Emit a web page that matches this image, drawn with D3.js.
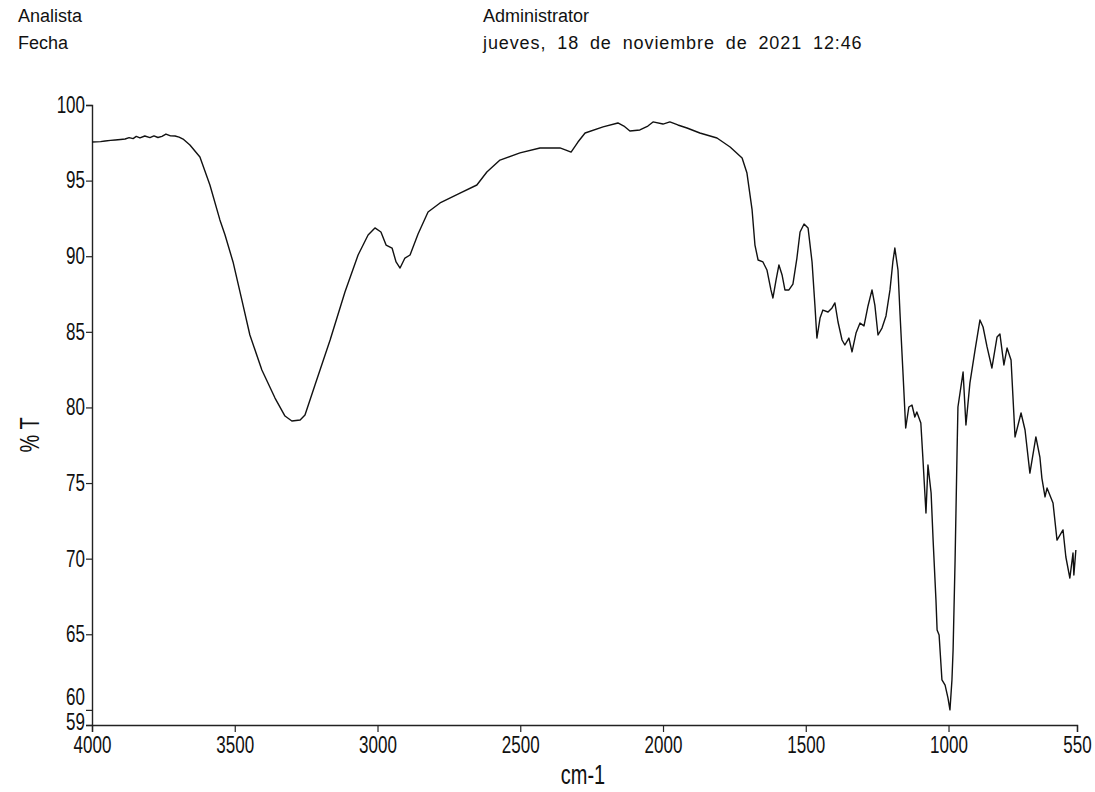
<!DOCTYPE html>
<html>
<head>
<meta charset="utf-8">
<script src="https://cdn.jsdelivr.net/npm/d3@7"></script>
<style>
  body { margin: 0; background: #fff; }
  .head { font-family: "Liberation Sans", Arial, sans-serif; font-size: 18px; fill: #111; }
</style>
</head>
<body>
<script>
// IR spectrum, %T vs wavenumber

const w = 1095;
const h = 792;
const sx = 0.74; // squeeze for the narrow axis font

// wavenumber (cm-1) and transmittance (%)
const wavenumber = [4000, 3970, 3954, 3935, 3919, 3900, 3884, 3870, 3856, 3845, 3832, 3815, 3797, 3783, 3769, 3755, 3741, 3725, 3709, 3695, 3681, 3657, 3622, 3587, 3552, 3534,
  3506, 3475, 3447, 3405, 3359, 3324, 3300, 3271, 3254, 3219, 3166, 3114, 3068, 3033, 3009, 2988, 2970, 2949,
  2935, 2921, 2904, 2886, 2858, 2823, 2781, 2711, 2652, 2617, 2571, 2501, 2431, 2361, 2340, 2322, 2298, 2273,
  2210, 2158, 2137, 2116, 2081, 2053, 2035, 2000, 1976, 1948, 1916, 1871, 1811, 1765, 1723, 1706, 1688, 1678,
  1667, 1650, 1636, 1622, 1615, 1604, 1594, 1583, 1573, 1559, 1545, 1531, 1520, 1506, 1492, 1478, 1468, 1461,
  1450, 1440, 1422, 1408, 1398, 1387, 1373, 1363, 1349, 1338, 1324, 1310, 1296, 1282, 1268, 1258, 1247, 1233,
  1219, 1205, 1195, 1188, 1177, 1170, 1160, 1150, 1139, 1128, 1118, 1111, 1097, 1090, 1079, 1072, 1061, 1054,
  1044, 1040, 1033, 1023, 1012, 1002, 995, 988, 984, 977, 970, 967, 949, 939, 925, 907, 890, 879, 865, 848,
  830, 820, 806, 795, 781, 767, 746, 732, 715, 694, 680, 673, 662, 655, 634, 620, 599, 589, 575, 564, 561, 554];

const transmittance = [97.55, 97.58, 97.62, 97.66, 97.69, 97.72, 97.75, 97.84, 97.78, 97.92, 97.82, 97.95, 97.84, 97.96, 97.85, 97.93, 98.08, 97.96, 97.95, 97.88, 97.75, 97.35, 96.56, 94.71, 92.40, 91.40,
  89.62, 87.10, 84.79, 82.48, 80.62, 79.43, 79.10, 79.17, 79.50, 81.48, 84.46, 87.63, 90.08, 91.40, 91.87, 91.60, 90.74, 90.54,
  89.62, 89.22, 89.88, 90.08, 91.47, 92.92, 93.52, 94.18, 94.71, 95.57, 96.36, 96.83, 97.16, 97.16, 97.02, 96.89, 97.55, 98.15,
  98.55, 98.81, 98.61, 98.28, 98.35, 98.61, 98.88, 98.74, 98.88, 98.68, 98.48, 98.15, 97.82, 97.22, 96.50, 95.50, 93.06, 90.74,
  89.75, 89.62, 89.09, 87.77, 87.24, 88.43, 89.42, 88.76, 87.77, 87.77, 88.16, 89.88, 91.60, 92.13, 91.87, 89.62, 86.77, 84.59,
  85.91, 86.44, 86.31, 86.58, 86.91, 85.65, 84.46, 84.13, 84.59, 83.67, 84.92, 85.58, 85.39, 86.71, 87.77, 86.77, 84.79, 85.25,
  86.05, 87.77, 89.62, 90.54, 89.09, 86.25, 82.48, 78.64, 80.03, 80.16, 79.37, 79.70, 78.97, 76.72, 73.02, 76.19, 74.34, 71.23,
  67.27, 65.28, 64.95, 61.98, 61.64, 60.79, 60.00, 61.98, 63.96, 69.91, 77.19, 80.03, 82.34, 78.84, 81.62, 83.80, 85.78, 85.32, 84.00, 82.61,
  84.66, 84.86, 82.81, 83.93, 83.14, 78.05, 79.63, 78.51, 75.66, 78.05, 76.72, 75.33, 74.08, 74.67, 73.68, 71.23, 71.90, 70.11, 68.72, 70.37, 68.92, 70.57];

const xTicks = [4000, 3500, 3000, 2500, 2000, 1500, 1000, 550];
const yTicks = [100, 95, 90, 85, 80, 75, 70, 65, 60, 59];

const headLeft = ["Analista", "Fecha"];
const headRight = ["Administrator", "jueves, 18 de noviembre de 2021 12:46"];

const svg = d3.select("body")
  .append("svg")
  .attr("width", w)
  .attr("height", h);

const x_scale = d3.scaleLinear()
  .domain([4000, 550])
  .range([92, 1077]);

const y_scale = d3.scaleLinear()
  .domain([59, 100])
  .range([725, 105]);

// header
svg.selectAll(".hl")
  .data(headLeft)
  .enter()
  .append("text")
  .attr("class", "head")
  .attr("x", 18)
  .attr("y", (d, i) => 22 + i * 27)
  .text(d => d);

svg.selectAll(".hr")
  .data(headRight)
  .enter()
  .append("text")
  .attr("class", "head")
  .attr("x", 483)
  .attr("y", (d, i) => 22 + i * 27)
  .attr("word-spacing", (d, i) => i === 1 ? "5px" : null)
  .attr("letter-spacing", (d, i) => i === 1 ? "0.9px" : null)
  .text(d => d);

// axes
const x_axis = d3.axisBottom(x_scale)
  .tickValues(xTicks)
  .tickSize(7)
  .tickFormat(d3.format("d"));

const y_axis = d3.axisLeft(y_scale)
  .tickValues(yTicks)
  .tickSize(6)
  .tickFormat(d3.format("d"));

const gx = svg.append("g")
  .attr("class", "x axis")
  .attr("transform", "translate(0,725)")
  .call(x_axis);

const gy = svg.append("g")
  .attr("class", "y axis")
  .attr("transform", "translate(92,0)")
  .call(y_axis);

[gx, gy].forEach(g => {
  g.select(".domain").attr("stroke", "#222").attr("stroke-width", 1.4);
  g.selectAll(".tick line").attr("stroke", "#222").attr("stroke-width", 1.2);
  g.selectAll(".tick text")
    .attr("fill", "#111")
    .attr("font-size", "23px")
    .attr("font-family", "'Liberation Sans', Arial, sans-serif");
});

// squeeze the tick labels into a narrow face
gx.selectAll(".tick text")
  .attr("x", 0)
  .attr("y", 12)
  .attr("transform", `scale(${sx},1)`);

gy.selectAll(".tick text")
  .attr("x", -7 / sx)
  .attr("dy", d => d === 60 ? "-0.24em" : d === 59 ? "0.2em" : "0.32em")
  .attr("transform", `scale(${sx},1)`);

// spectrum
const line = d3.line()
  .x(d => x_scale(d[0]))
  .y(d => y_scale(d[1]));

svg.append("path")
  .datum(d3.zip(wavenumber, transmittance))
  .attr("fill", "none")
  .attr("stroke", "#111")
  .attr("stroke-width", 1.4)
  .attr("stroke-linejoin", "round")
  .attr("d", line);

// axis labels
svg.append("text")
  .attr("transform", `translate(583,784) scale(${sx},1)`)
  .attr("text-anchor", "middle")
  .attr("font-family", "'Liberation Sans', Arial, sans-serif")
  .attr("font-size", "27px")
  .attr("fill", "#111")
  .text("cm-1");

svg.append("text")
  .attr("transform", `translate(39,435) rotate(-90) scale(${sx},1)`)
  .attr("text-anchor", "middle")
  .attr("font-family", "'Liberation Sans', Arial, sans-serif")
  .attr("font-size", "27px")
  .attr("fill", "#111")
  .text("% T");
</script>
</body>
</html>
